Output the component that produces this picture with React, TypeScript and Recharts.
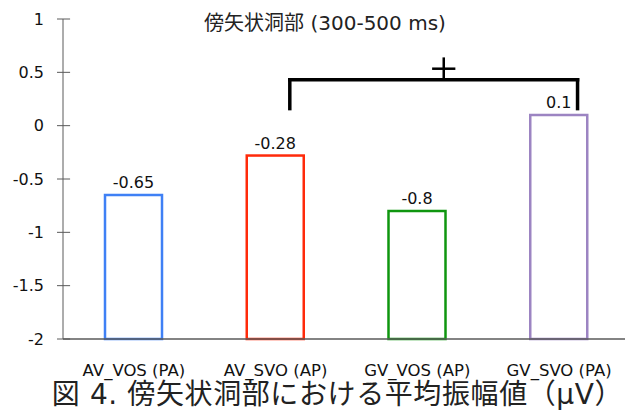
import { BarChart, Bar, XAxis, YAxis, LabelList, ReferenceLine } from "recharts";

const categories = ["AV_VOS (PA)", "AV_SVO (AP)", "GV_VOS (AP)", "GV_SVO (PA)"];
const amplitudes = [-0.65, -0.28, -0.8, 0.1];
const barColors = ["#3f80f5", "#ff2a0a", "#0f960f", "#9c84c2"];
const yTicks = [-2, -1.5, -1, -0.5, 0, 0.5, 1];
const axisFloor = -2;

const data = categories.map((name, i) => ({
  pos: i,
  name,
  value: amplitudes[i],
  range: [axisFloor, amplitudes[i]],
}));

// significance bracket between AV_SVO and GV_SVO (x in category index units)
const bracket = { x1: 1.1, x2: 3.13, yLow: 0.16, yHigh: 0.43 };
const plus = { x: 2.186, half: 0.082, y: 0.534, yTop: 0.64, yBottom: 0.43 };
const innerTick = 0.05; // part of each y tick mark that crosses into the plot

const font = "'DejaVu Sans', 'Noto Sans CJK JP', sans-serif";
const axisColor = "#5a5a5a";

export default function App() {
  return (
    <div style={{ position: "absolute", left: 0, top: 0, width: 625, height: 410, overflow: "hidden", background: "#fff", fontFamily: font }}>
      <div style={{ position: "absolute", left: 0, width: 650, top: 9, lineHeight: "28px", textAlign: "center", fontSize: 20, color: "#222" }}>
        傍矢状洞部 (300-500 ms)
      </div>
      <BarChart width={630} height={410} data={data} margin={{ top: 19, right: 0, left: 0, bottom: 41 }}>
        <XAxis
          dataKey="pos"
          type="number"
          domain={[-0.5, 3.5]}
          ticks={[0, 1, 2, 3]}
          tickFormatter={(v: number) => categories[v]}
          tickLine={false}
          tickSize={0}
          tickMargin={25}
          axisLine={{ stroke: axisColor, strokeWidth: 1.5 }}
          tick={{ fontSize: 16.5, fill: "#111", fontFamily: font }}
          height={30}
          interval={0}
        />
        <YAxis
          domain={[-2, 1]}
          ticks={yTicks}
          width={63}
          tickSize={6}
          tickMargin={13}
          tickLine={{ stroke: axisColor }}
          axisLine={{ stroke: axisColor }}
          tick={{ fontSize: 16, fill: "#111", fontFamily: font }}
          interval={0}
        />
        {yTicks.map((t) => (
          <ReferenceLine key={t} segment={[{ x: -0.5, y: t }, { x: -0.5 + innerTick, y: t }]} stroke={axisColor} strokeWidth={1} />
        ))}
        <Bar dataKey="range" barSize={57} fill="#fff" isAnimationActive={false}
          shape={(p: any) => (
            <rect x={p.x} y={p.y} width={p.width} height={p.height} fill="#fff" stroke={barColors[p.index]} strokeWidth={2.5} />
          )}
        >
          <LabelList dataKey="value" position="top" offset={7} style={{ fontSize: 16, fill: "#111", fontFamily: font }} />
        </Bar>
        <ReferenceLine segment={[{ x: bracket.x1, y: bracket.yLow }, { x: bracket.x1, y: bracket.yHigh }]} stroke="#000" strokeWidth={3.5} strokeLinecap="square" />
        <ReferenceLine segment={[{ x: bracket.x1, y: bracket.yHigh }, { x: bracket.x2, y: bracket.yHigh }]} stroke="#000" strokeWidth={3.5} strokeLinecap="square" />
        <ReferenceLine segment={[{ x: bracket.x2, y: bracket.yHigh }, { x: bracket.x2, y: bracket.yLow }]} stroke="#000" strokeWidth={3.5} strokeLinecap="square" />
        <ReferenceLine segment={[{ x: plus.x - plus.half, y: plus.y }, { x: plus.x + plus.half, y: plus.y }]} stroke="#000" strokeWidth={2.5} />
        <ReferenceLine segment={[{ x: plus.x, y: plus.yTop }, { x: plus.x, y: plus.yBottom }]} stroke="#000" strokeWidth={2.5} />
      </BarChart>
      <div style={{ position: "absolute", left: 0, width: 675, top: 380, textAlign: "center", fontSize: 28, lineHeight: "30px", letterSpacing: 0.6, color: "#222" }}>
        図 4. 傍矢状洞部における平均振幅値（μV）
      </div>
    </div>
  );
}
